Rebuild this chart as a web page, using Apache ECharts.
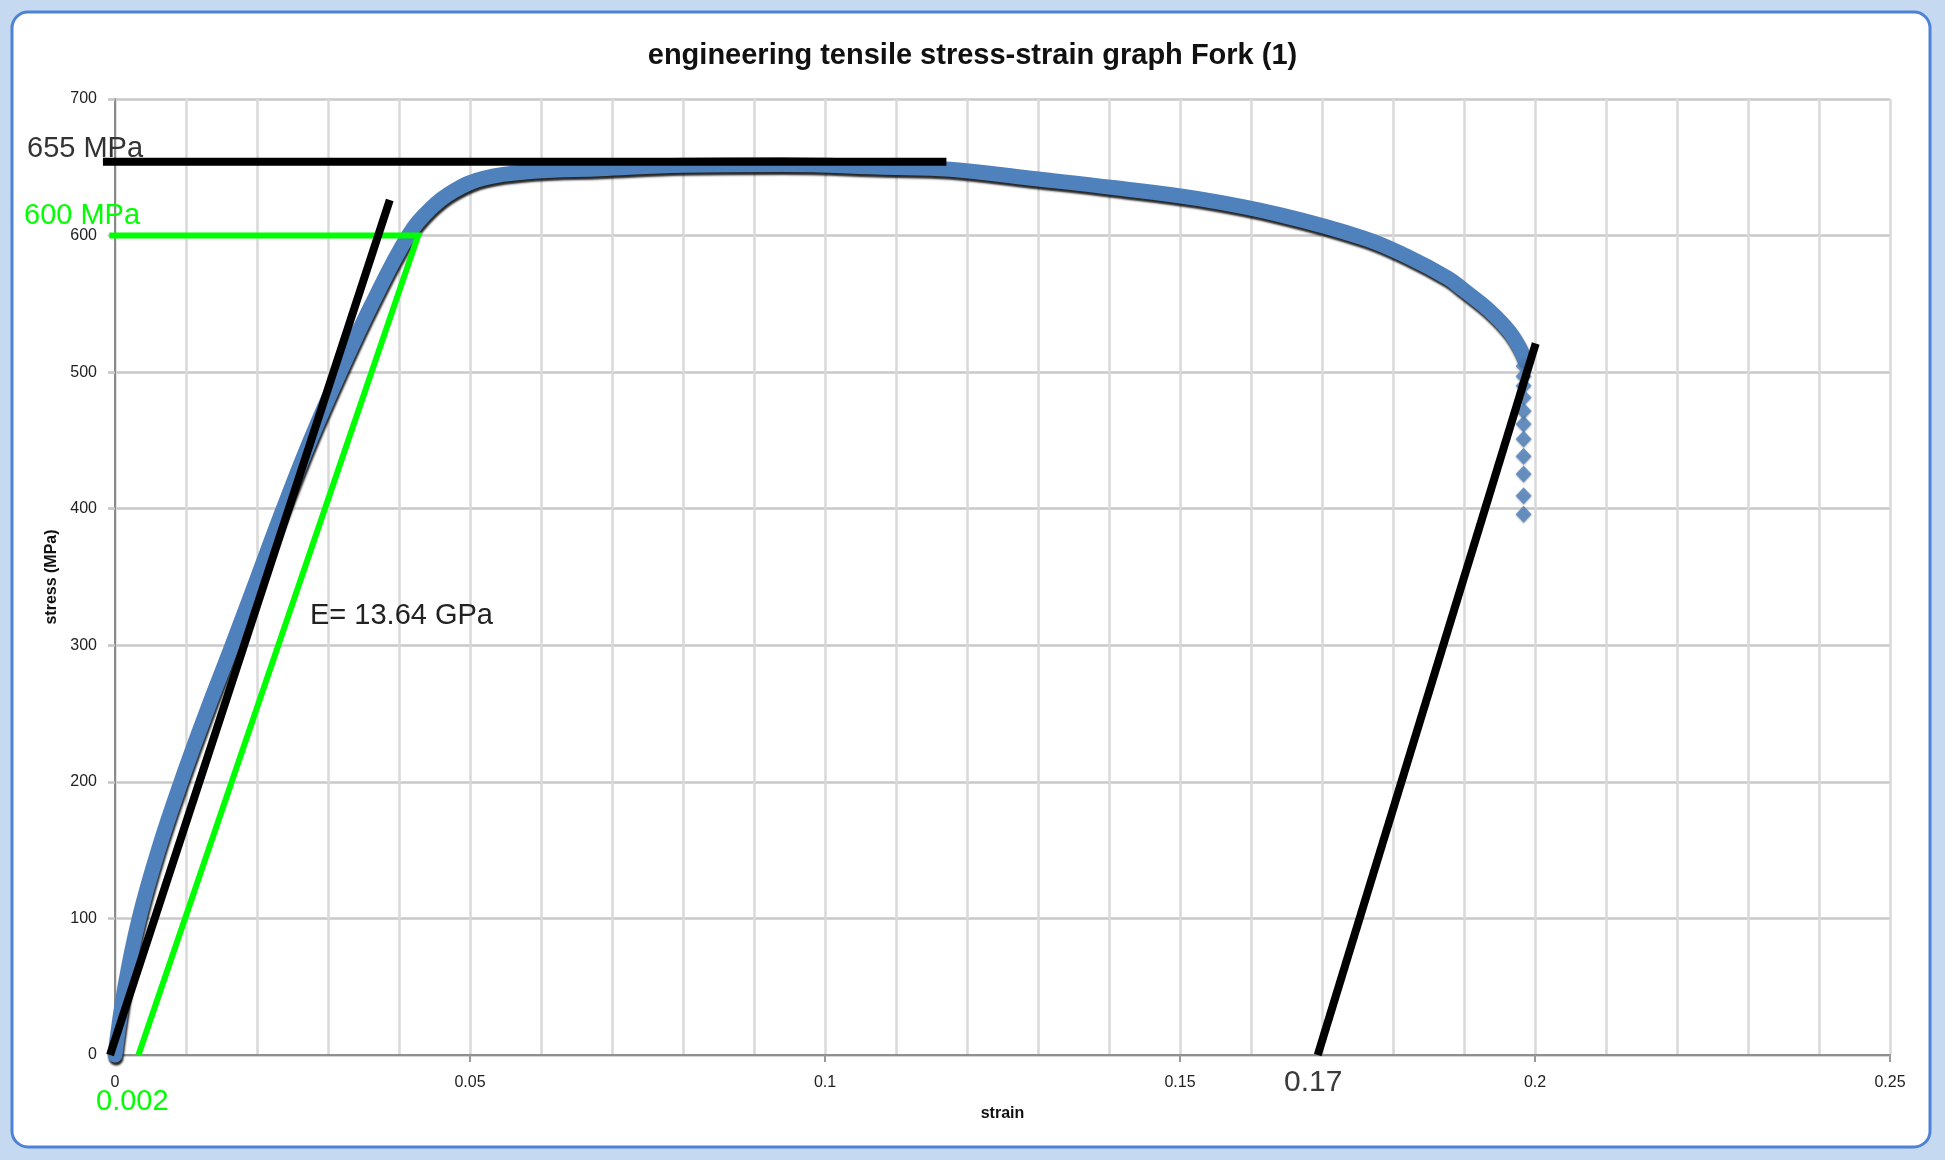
<!DOCTYPE html>
<html><head><meta charset="utf-8">
<script src="https://cdn.jsdelivr.net/npm/echarts@6/dist/echarts.min.js"></script>
<style>html,body{margin:0;padding:0;background:#c5d9f1}#c{width:1945px;height:1160px}</style>
</head><body><div id="c"></div>
<script>
// ---- text ----
const titleText = 'engineering tensile stress-strain graph Fork (1)';
const xAxisName = 'strain';
const yAxisName = 'stress (MPa)';
const xTickValues = [0, 0.05, 0.1, 0.15, 0.2, 0.25];
const xTickLabels = ['0', '0.05', '0.1', '0.15', '0.2', '0.25'];
const yTickValues = [0, 100, 200, 300, 400, 500, 600, 700];
const yTickLabels = ['0', '100', '200', '300', '400', '500', '600', '700'];
const annotationTexts = ['655 MPa', '600 MPa', 'E= 13.64 GPa', '0.002', '0.17'];

// ---- measured curve (strain, stress MPa) ----
const curveStrain = [0, 0.0014, 0.0034, 0.0061, 0.0093, 0.0128, 0.0165, 0.0201, 0.0237, 0.0275, 0.0317, 0.0362, 0.0413, 0.0445, 0.0478, 0.0519, 0.0589, 0.0683, 0.0800, 0.0940, 0.1083, 0.1176, 0.1290, 0.1409, 0.1526, 0.1643, 0.1760, 0.1819, 0.1877, 0.1900, 0.1936, 0.1965, 0.1980, 0.1985];
const curveStress = [0, 50, 100, 150, 200, 250, 300, 350, 400, 450, 500, 550, 600, 620, 633, 642, 647, 649, 651.5, 652, 650, 648.5, 642, 635, 627, 615, 598, 585, 569, 560, 545, 529, 516, 510];
// scattered points after fracture onset
const tailStrain = [0.1984, 0.1984, 0.1984, 0.1984, 0.1984, 0.1984, 0.1984, 0.1984, 0.1984, 0.1984, 0.1984];
const tailStress = [504.5, 497, 490, 481.5, 471.5, 462, 451, 438.5, 425.5, 409.5, 396];

// ---- hand-drawn construction lines ----
const utsLineStrain = [-0.0017, 0.1171];
const utsLineStress = [654, 654];
const offsetLineStrain = [-0.0008, 0.0427, 0.0033];
const offsetLineStress = [600, 600, 0];
const elasticLineStrain = [-0.0007, 0.0387];
const elasticLineStress = [0, 626];
const fractureLineStrain = [0.1694, 0.2001];
const fractureLineStress = [0, 521];

const pairs = (xs, ys) => xs.map((x, i) => [x, ys[i]]);
const lookup = (vals, labels) => (v) => {
  const i = vals.findIndex(t => Math.abs(t - v) < 1e-9);
  return i >= 0 ? labels[i] : '';
};

const FONT = '"Liberation Sans", Arial, sans-serif';
const chart = echarts.init(document.getElementById('c'), null, {renderer: 'canvas'});

const drawnLine = (xs, ys, color, width, z) => ({
  type: 'lines', coordinateSystem: 'cartesian2d', polyline: true, clip: false, z,
  data: [{coords: pairs(xs, ys)}],
  lineStyle: {color, width, opacity: 1, curveness: 0, cap: 'butt', join: 'miter'},
  effect: {show: false}, silent: true, emphasis: {disabled: true}
});

chart.setOption({
  animation: false,
  backgroundColor: '#c5d9f1',
  title: {
    text: titleText, left: 'center', top: 41, padding: 0,
    textStyle: {fontFamily: FONT, fontWeight: 'bold', fontSize: 29, color: '#111'}
  },
  grid: {left: 115, right: 55, top: 99, bottom: 105, containLabel: false},
  xAxis: {
    type: 'value', min: 0, max: 0.25, interval: 0.05,
    name: xAxisName, nameLocation: 'middle', nameGap: 51,
    nameTextStyle: {fontFamily: FONT, fontWeight: 'bold', fontSize: 16, color: '#111'},
    axisLine: {show: true, onZero: false, lineStyle: {color: '#8f8f8f', width: 2}},
    axisTick: {show: true, length: 7, lineStyle: {color: '#9a9a9a', width: 2}},
    axisLabel: {margin: 20, fontFamily: FONT, fontSize: 16, color: '#222', formatter: lookup(xTickValues, xTickLabels)},
    splitLine: {show: true, lineStyle: {color: '#d9d9d9', width: 2.5}},
    minorTick: {show: false, splitNumber: 5},
    minorSplitLine: {show: true, lineStyle: {color: '#d9d9d9', width: 2.5}}
  },
  yAxis: {
    type: 'value', min: 0, max: 700, interval: 100,
    name: yAxisName, nameLocation: 'middle', nameGap: 45, nameRotate: 90,
    nameTextStyle: {fontFamily: FONT, fontWeight: 'bold', fontSize: 16, color: '#111'},
    axisLine: {show: true, onZero: false, lineStyle: {color: '#8a8a8a', width: 2}},
    axisTick: {show: true, length: 7, lineStyle: {color: '#c4c4c4', width: 2.5}},
    axisLabel: {margin: 18, fontFamily: FONT, fontSize: 16, color: '#222', formatter: lookup(yTickValues, yTickLabels)},
    splitLine: {show: true, lineStyle: {color: '#c8c8c8', width: 2.5}}
  },
  graphic: [
    {type: 'rect', z: -10, silent: true,
     shape: {x: 12, y: 12, width: 1918, height: 1135, r: 16},
     style: {fill: '#ffffff', stroke: '#4f82d6', lineWidth: 3}},
    {type: 'text', x: 27, y: 149, z: 100, silent: true,
     style: {text: annotationTexts[0], font: '29px ' + FONT, fill: '#333', textAlign: 'left', textVerticalAlign: 'middle'}},
    {type: 'text', x: 24, y: 216, z: 100, silent: true,
     style: {text: annotationTexts[1], font: '29px ' + FONT, fill: '#00ff00', textAlign: 'left', textVerticalAlign: 'middle'}},
    {type: 'text', x: 310, y: 616, z: 100, silent: true,
     style: {text: annotationTexts[2], font: '29px ' + FONT, fill: '#222', textAlign: 'left', textVerticalAlign: 'middle'}},
    {type: 'text', x: 96, y: 1102, z: 100, silent: true,
     style: {text: annotationTexts[3], font: '29px ' + FONT, fill: '#00ff00', textAlign: 'left', textVerticalAlign: 'middle'}},
    {type: 'text', x: 1284, y: 1083, z: 100, silent: true,
     style: {text: annotationTexts[4], font: '30px ' + FONT, fill: '#3a3a3a', textAlign: 'left', textVerticalAlign: 'middle'}}
  ],
  series: [
    {
      type: 'line', data: pairs(curveStrain, curveStress), symbol: 'none', showSymbol: false,
      smooth: 0.4, clip: false, z: 2, silent: true,
      lineStyle: {color: '#4f81bd', width: 15, cap: 'round', join: 'round',
        shadowColor: 'rgba(0,0,0,0.85)', shadowBlur: 2, shadowOffsetX: 1, shadowOffsetY: 3},
      emphasis: {disabled: true}
    },
    {
      type: 'scatter', data: pairs(tailStrain, tailStress), symbol: 'diamond', symbolSize: [16, 17],
      z: 2, silent: true,
      itemStyle: {color: '#4f81bd', shadowColor: 'rgba(0,0,0,0.35)', shadowBlur: 2, shadowOffsetY: 1},
      emphasis: {disabled: true}
    },
    drawnLine(offsetLineStrain, offsetLineStress, '#00ff00', 6, 5),
    drawnLine(utsLineStrain, utsLineStress, '#000000', 8, 6),
    drawnLine(elasticLineStrain, elasticLineStress, '#000000', 8, 6),
    drawnLine(fractureLineStrain, fractureLineStress, '#000000', 8, 6)
  ]
});
</script></body></html>
